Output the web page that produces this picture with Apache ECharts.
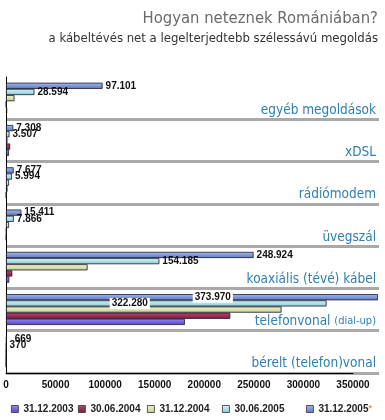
<!DOCTYPE html>
<html><head><meta charset="utf-8">
<script src="https://cdn.jsdelivr.net/npm/echarts@6/dist/echarts.min.js"></script>
<style>html,body{margin:0;padding:0;background:#fff}#c{width:385px;height:420px}</style>
</head><body><div id="c"></div>
<script>
// categories, top to bottom
const categories = ['egyéb megoldások','xDSL','rádiómodem','üvegszál','koaxiális (tévé) kábel','telefonvonal (dial-up)','bérelt (telefon)vonal'];
const seriesNames = ['31.12.2003','30.06.2004','31.12.2004','30.06.2005','31.12.2005'];
const v2003   = [1200, 3000, 300, 250, 3300, 179800, 100];
const v2004h1 = [300, 4200, 1500, 500, 6300, 225500, 150];
const v2004   = [8500, 1500, 3000, 3000, 82000, 277000, 200];
const v2005h1 = [28594, 3507, 5994, 7866, 154185, 322280, 370];
const v2005   = [97101, 7308, 7677, 15411, 248924, 373970, 669];
const xTickLabels = ['0','50000','100000','150000','200000','250000','300000','350000'];

const FONT = '"Liberation Sans", Arial, sans-serif';
const NARROW = '"DejaVu Sans Condensed", "Liberation Sans", sans-serif';
const fmt = n => String(n).replace(/\B(?=(\d{3})+(?!\d))/g, '.');

function grad(top, mid, bot) {
  return new echarts.graphic.LinearGradient(0, 0, 0, 1, [
    {offset: 0, color: top}, {offset: 0.5, color: mid}, {offset: 1, color: bot}
  ]);
}
const colors = {
  '31.12.2003': ['#9a90f0', '#7564e0', '#5a48c8'],
  '30.06.2004': ['#b84a70', '#9c2e58', '#7e1e44'],
  '31.12.2004': ['#eef0cc', '#dde2b0', '#c4c898'],
  '30.06.2005': ['#d0f2f6', '#aee0e8', '#8cc8d4'],
  '31.12.2005': ['#a8bcec', '#7f98d8', '#6078c0']
};
const valuesByName = {
  '31.12.2003': v2003, '30.06.2004': v2004h1, '31.12.2004': v2004,
  '30.06.2005': v2005h1, '31.12.2005': v2005
};
const TEL = 5;
const labelStyle = {fontSize: 10, fontWeight: 'bold', color: '#111', fontFamily: FONT};

const order = ['31.12.2005','30.06.2005','31.12.2004','30.06.2004','31.12.2003'];
const series = order.map(name => {
  const showLab = (name === '31.12.2005' || name === '30.06.2005');
  const data = valuesByName[name].map((v, i) => {
    const d = {value: v};
    if (showLab && i === TEL) {
      d.label = {position: [name === '31.12.2005' ? '55.6%' : '38.6%', '50%'], align: 'center', verticalAlign: 'middle',
        backgroundColor: '#fff', padding: [1, 2, 0, 2]};
    }
    if (showLab && i === 6 && name === '31.12.2005') d.label = {offset: [5, 0]};
    return d;
  });
  const c = colors[name];
  return {
    name, type: 'bar', xAxisIndex: 0, yAxisIndex: 0, data,
    barGap: '0%', barCategoryGap: '27%',
    itemStyle: {color: grad(c[0], c[1], c[2]), borderColor: '#1a1a2a', borderWidth: 0.8},
    label: Object.assign({show: showLab, position: 'right', distance: 3,
      formatter: p => fmt(p.value)}, labelStyle),
    emphasis: {disabled: true}
  };
});

const legendLefts = [11, 78, 147, 222, 306];
const legends = seriesNames.map((n, i) => ({
  data: [n], left: legendLefts[i], top: 404, padding: 0, itemWidth: 7, itemHeight: 7, icon: 'rect', itemGap: 0,
  itemStyle: {borderColor: '#333', borderWidth: 0.8},
  selectedMode: false,
  formatter: n === '31.12.2005' ? '{a|' + n + '}{s|*}' : '{a|' + n + '}',
  textStyle: {fontSize: 10, fontWeight: 'bold', color: '#222', fontFamily: FONT,
    rich: {a: {fontSize: 10, fontWeight: 'bold', color: '#222', fontFamily: FONT, lineHeight: 12},
           s: {fontSize: 9, color: '#e09a20', fontWeight: 'bold', lineHeight: 12}}}
}));

const catRich = {
  n: {fontSize: 13.5, color: '#2e7fb2', fontFamily: NARROW},
  s: {fontSize: 11, color: '#2e7fb2', fontFamily: NARROW}
};

const option = {
  animation: false,
  backgroundColor: '#fff',
  title: [{
    text: 'Hogyan neteznek Romániában?',
    right: 7, top: 10, padding: 0,
    textStyle: {fontSize: 16.5, fontWeight: 'normal', color: '#6b6b6b', fontFamily: NARROW}
  }, {
    text: 'a kábeltévés net a legelterjedtebb szélessávú megoldás',
    right: 7, top: 32, padding: 0,
    textStyle: {fontSize: 13, fontWeight: 'normal', color: '#333', fontFamily: NARROW}
  }],
  legend: legends,
  grid: [
    {left: 6, right: 6, top: 77, bottom: 47, containLabel: false},
    {left: 6, right: 32, top: 77, bottom: 47, containLabel: false}
  ],
  xAxis: [{
    gridIndex: 0, type: 'value', min: 0, max: 375000, interval: 50000,
    axisLine: {show: false}, axisTick: {show: false}, splitLine: {show: false}, axisLabel: {show: false}
  }, {
    gridIndex: 1, type: 'value', min: 0, max: 350000, interval: 50000,
    axisLine: {show: true, onZero: false, lineStyle: {color: '#000', width: 1}},
    axisTick: {show: false},
    splitLine: {show: false},
    axisLabel: {margin: 7, fontSize: 10, fontWeight: 'bold', color: '#111', fontFamily: FONT,
      formatter: (v) => xTickLabels[Math.round(v / 50000)] || ''}
  }],
  yAxis: [{
    gridIndex: 0, type: 'category', data: categories, inverse: true,
    axisLine: {show: true, lineStyle: {color: '#000', width: 1}},
    axisTick: {show: false},
    axisLabel: {show: false},
    splitLine: {show: true, interval: (idx) => idx !== 0, lineStyle: {color: '#a9a9a9', width: 3}}
  }, {
    gridIndex: 0, type: 'category', data: categories, inverse: true, position: 'right',
    axisLine: {show: false}, axisTick: {show: false}, splitLine: {show: false},
    axisLabel: {inside: true, margin: 3, padding: [24, 0, 0, 0], verticalAlign: 'middle',
      formatter: v => v.startsWith('telefonvonal') ? '{n|telefonvonal }{s|(dial-up)}' : '{n|' + v + '}',
      rich: catRich}
  }, {
    gridIndex: 1, type: 'category', data: categories, show: false
  }],
  series
};
const chart = echarts.init(document.getElementById('c'), null, {renderer: 'canvas'});
chart.setOption(option);
</script></body></html>
